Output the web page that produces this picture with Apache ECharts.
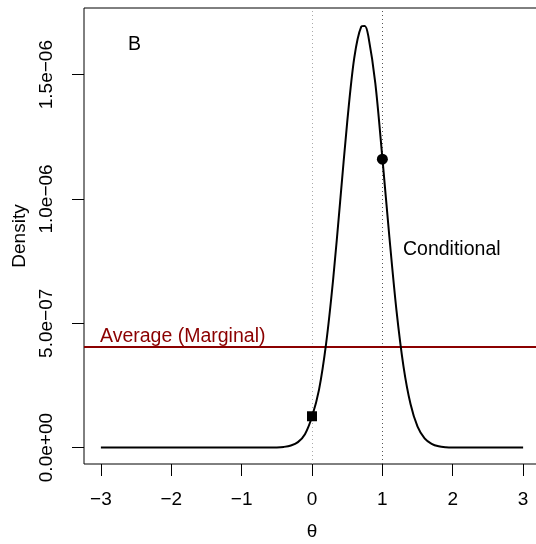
<!DOCTYPE html>
<html>
<head>
<meta charset="utf-8">
<script src="https://cdn.jsdelivr.net/npm/echarts@6/dist/echarts.min.js"></script>
<style>
  html, body { margin: 0; padding: 0; background: #fff; }
  #main { width: 536px; height: 544px; }
</style>
</head>
<body>
<div id="main"></div>
<script>
    // curve
    var thetas = [-3, -2.5, -2, -1.5, -1, -0.6, -0.5, -0.4, -0.3, -0.2, -0.1, 0, 0.1, 0.2, 0.3, 0.4, 0.5, 0.6, 0.7, 0.75, 0.8, 0.9, 1.0, 1.1, 1.2, 1.3, 1.4, 1.5, 1.6, 1.7, 1.8, 1.9, 2.0, 2.5, 3];
    var density = [0, 0, 0, 0, 0, 0.0001e-6, 0.0005e-6, 0.0028e-6, 0.0083e-6, 0.022e-6, 0.054e-6, 0.124e-6, 0.233e-6, 0.417e-6, 0.675e-6, 0.989e-6, 1.308e-6, 1.566e-6, 1.693e-6, 1.696e-6, 1.656e-6, 1.465e-6, 1.165e-6, 0.846e-6, 0.553e-6, 0.327e-6, 0.175e-6, 0.084e-6, 0.037e-6, 0.015e-6, 0.005e-6, 0.0015e-6, 0.0004e-6, 0, 0];

    var averageMarginal = 4.04e-7;
    var pointSquare = [0, 1.26e-7];
    var pointCircle = [1, 1.16e-6];
    var refLines = [0, 1];

    var xTicks = [-3, -2, -1, 0, 1, 2, 3];
    var xTickLabels = ['\u22123', '\u22122', '\u22121', '0', '1', '2', '3'];
    var yTicks = [0, 5e-7, 1e-6, 1.5e-6];
    var yTickLabels = ['0.0e+00', '5.0e\u221207', '1.0e\u221206', '1.5e\u221206'];

    var xMin = -3.24, xMax = 3.24;
    var font = 'Liberation Sans, Arial, Helvetica, sans-serif';

    var dom = document.getElementById('main');
    var myChart = echarts.init(dom, null, {
        renderer: 'canvas',
        useDirtyRect: false
    });

    var curve = thetas.map(function (t, i) { return [t, density[i]]; });

    var option = {
        animation: false,
        backgroundColor: '#fff',
        textStyle: { fontFamily: font },
        grid: {
            left: 84, top: 8, right: -4, bottom: 80,
            show: true, borderColor: '#000', borderWidth: 1,
            containLabel: false,
            outerBoundsMode: 'none'
        },
        xAxis: {
            type: 'value',
            min: xMin, max: xMax,
            name: '\u03b8',
            nameLocation: 'middle',
            nameGap: 58,
            nameTextStyle: { color: '#000', fontSize: 19, fontFamily: font },
            axisLine: { show: false, onZero: false },
            splitLine: { show: false },
            axisTick: { show: true, inside: false, length: 12, lineStyle: { color: '#000' }, customValues: xTicks },
            axisLabel: {
                color: '#000', fontSize: 19, fontFamily: font, margin: 26,
                customValues: xTicks,
                formatter: function (v) { return xTickLabels[xTicks.indexOf(v)]; }
            }
        },
        yAxis: {
            type: 'value',
            min: -6.6e-8, max: 1.768e-6,
            name: 'Density',
            nameLocation: 'middle',
            nameGap: 53,
            nameRotate: 90,
            nameTextStyle: { color: '#000', fontSize: 19, fontFamily: font },
            axisLine: { show: false, onZero: false },
            splitLine: { show: false },
            axisTick: { show: true, inside: false, length: 12, lineStyle: { color: '#000' }, customValues: yTicks },
            axisLabel: {
                color: '#000', fontSize: 19, fontFamily: font, margin: 28, rotate: 90,
                customValues: yTicks,
                formatter: function (v) { return yTickLabels[yTicks.indexOf(v)]; }
            }
        },
        series: [{
            type: 'line',
            data: curve,
            smooth: 0.3,
            symbol: 'none',
            lineStyle: { color: '#000', width: 2 },
            z: 5,
            markLine: {
                silent: true,
                symbol: 'none',
                label: { show: false },
                data: [
                    [{ coord: [refLines[0], -6.6e-8], lineStyle: { color: '#aaa', type: [1, 3], width: 1 } }, { coord: [refLines[0], 1.768e-6] }],
                    [{ coord: [refLines[1], -6.6e-8], lineStyle: { color: '#555', type: [1, 3], width: 1 } }, { coord: [refLines[1], 1.768e-6] }],
                    [{ coord: [xMin, averageMarginal], lineStyle: { color: '#8b0000', type: 'solid', width: 2 } }, { coord: [xMax, averageMarginal] }]
                ]
            }
        }, {
            type: 'scatter',
            data: [pointSquare],
            symbol: 'rect',
            symbolSize: 10,
            itemStyle: { color: '#000', opacity: 1 },
            z: 6
        }, {
            type: 'scatter',
            data: [pointCircle],
            symbol: 'circle',
            symbolSize: 11,
            itemStyle: { color: '#000', opacity: 1 },
            z: 6
        }],
        graphic: [{
            type: 'text', left: 128, top: 35,
            style: { text: 'B', fill: '#000', font: '19.5px ' + font }
        }, {
            type: 'text', left: 403, top: 240,
            style: { text: 'Conditional', fill: '#000', font: '19.5px ' + font }
        }, {
            type: 'text', left: 100, top: 327,
            style: { text: 'Average (Marginal)', fill: '#8b0000', font: '19.5px ' + font }
        }]
    };

    option && myChart.setOption(option);
</script>
</body>
</html>
